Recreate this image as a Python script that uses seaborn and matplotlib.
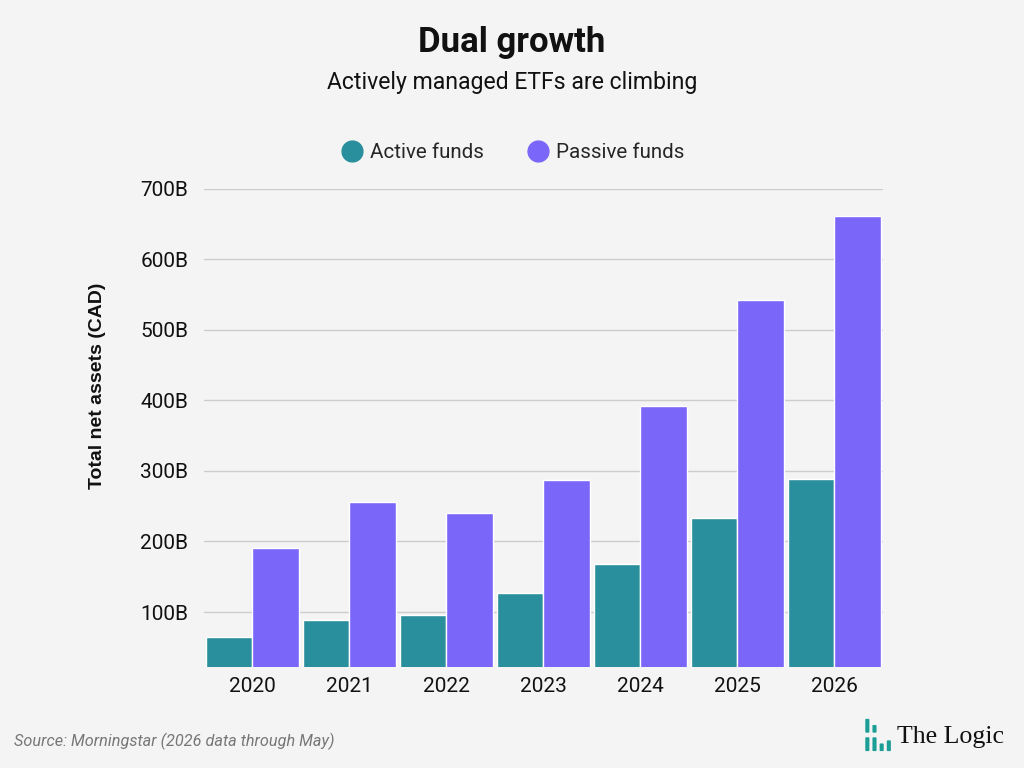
import matplotlib
matplotlib.use('Agg')
import matplotlib.pyplot as plt
import matplotlib.patches as mpatches
from matplotlib.ticker import FuncFormatter
import pandas as pd
import seaborn as sns

# Values (billions CAD)
YEARS = ['2020', '2021', '2022', '2023', '2024', '2025', '2026']
ACTIVE = [64, 89, 96, 127, 168, 233, 289]
PASSIVE = [191, 256, 240, 287, 392, 543, 662]
SERIES = ['Active funds', 'Passive funds']
COLORS = ['#2a8f9c', '#7b66fa']
BG = '#f4f4f4'

df = pd.DataFrame({
    'year': YEARS * 2,
    'value': ACTIVE + PASSIVE,
    'series': [SERIES[0]] * len(YEARS) + [SERIES[1]] * len(YEARS),
})

sns.set_theme(style='white')
plt.rcParams['font.family'] = ['Roboto', 'DejaVu Sans']

fig = plt.figure(figsize=(10.24, 7.68), dpi=100, facecolor=BG)
ax = fig.add_axes([0.199, 0.1315, 0.663, 0.6225], facecolor=BG)

sns.barplot(data=df, x='year', y='value', hue='series', palette=COLORS,
            width=0.96, gap=0.0, edgecolor='white', linewidth=1.0,
            saturation=1, legend=False, ax=ax)

ax.set_xlim(-0.5, len(YEARS) - 0.5)
ax.set_ylim(22, 700)
ax.set_yticks([100, 200, 300, 400, 500, 600, 700])
ax.yaxis.set_major_formatter(FuncFormatter(lambda v, _: f'{int(v)}B'))
ax.grid(axis='y', color='#cccccc', linewidth=1)
ax.set_axisbelow(True)
for s in ax.spines.values():
    s.set_visible(False)
ax.tick_params(axis='both', length=0, labelsize=15, colors='#111111')
ax.tick_params(axis='y', pad=11)
ax.tick_params(axis='x', pad=7)
ax.set_xlabel('')
ax.set_ylabel('Total net assets (CAD)', fontsize=14, fontweight='bold',
              family=['Liberation Sans', 'DejaVu Sans'],
              color='#111111', labelpad=0)
ax.yaxis.set_label_coords(-0.144, 0.588)

# titles
fig.text(0.5, 0.945, 'Dual growth', ha='center', va='center',
         fontsize=25, fontweight='bold', color='#111111')
fig.text(0.5, 0.893, 'Actively managed ETFs are climbing', ha='center',
         va='center', fontsize=16.6, color='#111111')

# legend
handles = [plt.Line2D([], [], marker='o', linestyle='', markersize=15,
                      markerfacecolor=c, markeredgecolor=c) for c in COLORS]
fig.legend(handles, SERIES, loc='center', bbox_to_anchor=(0.5, 0.801),
           ncol=2, frameon=False, fontsize=14.8, handletextpad=0.3,
           columnspacing=2.0, handlelength=1.2)

# footer
fig.text(0.014, 0.034, 'Source: Morningstar (2026 data through May)',
         ha='left', va='center', fontsize=11.7, style='italic', color='#777777')

# logo
logo_color = '#1a9e96'
for x0, y0, h in [(0.845, 0.046, 0.018), (0.845, 0.022, 0.018),
                  (0.852, 0.046, 0.010), (0.852, 0.022, 0.018),
                  (0.859, 0.022, 0.010), (0.866, 0.022, 0.014)]:
    fig.patches.append(mpatches.FancyBboxPatch(
        (x0, y0), 0.004, h, boxstyle='round,pad=0,rounding_size=0.001',
        transform=fig.transFigure, facecolor=logo_color, edgecolor='none'))
fig.text(0.876, 0.041, 'The Logic', ha='left', va='center', fontsize=18.6,
         family=['Liberation Serif', 'DejaVu Serif'], color='#111111')

fig.savefig('out.png', dpi=100, facecolor=BG)
